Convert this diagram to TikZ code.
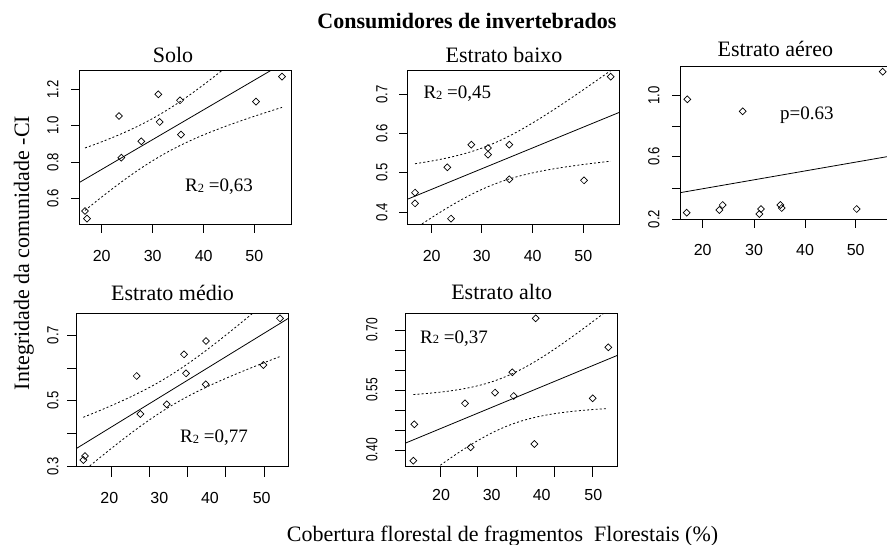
\documentclass[tikz,border=0pt]{standalone}
\usepackage{fontspec}
\usetikzlibrary{shapes.geometric}
\setmainfont{Liberation Serif}
\newfontfamily\ticksf{Liberation Sans}
\begin{document}
\begin{tikzpicture}[x=1pt,y=-1pt,
  box/.style={draw, line width=1pt},
  fitline/.style={line width=0.8pt},
  ci/.style={line width=0.8pt, dash pattern=on 2pt off 2.2pt},
  pt/.style={diamond, draw, line width=0.7pt, minimum width=7.2pt, minimum height=7.2pt, inner sep=0pt},
  tk/.style={line width=0.9pt},
  ttl/.style={font=\fontsize{22}{24}\selectfont, anchor=base, inner sep=0pt},
  mainttl/.style={font=\bfseries\fontsize{22}{24}\selectfont, anchor=base, inner sep=0pt},
  xl/.style={font=\ticksf\fontsize{16}{17}\selectfont, anchor=base, inner sep=0pt},
  yl/.style={font=\ticksf\fontsize{16}{17}\selectfont, rotate=90, anchor=base, inner sep=0pt},
  rl/.style={font=\fontsize{19}{20}\selectfont, anchor=base west, inner sep=0pt},
  axlab/.style={font=\fontsize{22}{24}\selectfont, anchor=base, inner sep=0pt}
]
\useasboundingbox (0,0) rectangle (887,545);
\newcommand{\Rtwo}[1]{R\raisebox{-0.5pt}{\fontsize{12.5}{13}\selectfont 2}\ =#1}

% ---------- titles and axis labels ----------
\node[mainttl] (main) at (467,29) {Consumidores de invertebrados};
\node[axlab] (xlab) at (502.5,541.5) {Cobertura florestal de fragmentos\ \ Florestais (\%)};
\node[axlab, rotate=90] (ylab) at (29,253) {Integridade da comunidade -CI};

% ================= Panel 1: Solo =================
\node[ttl] (t1) at (173,62.3) {Solo};
\begin{scope}
  \clip (79,71) rectangle (291,225);
  \draw[fitline] (79,182.7) -- (291,{182.7-0.585*212});
  \draw[ci] plot[domain=85:282, samples=60] (\x,{182.7-0.585*(\x-79)-sqrt(441+0.0963*(\x-159.5)^2)});
  \draw[ci] plot[domain=85:282, samples=60] (\x,{182.7-0.585*(\x-79)+sqrt(441+0.0963*(\x-159.5)^2)});
\end{scope}
\draw[box] (79,71) rectangle (291,225);
\foreach \a in {101.7,152.7,203.7,254.3} \draw[tk] (\a,225) -- (\a,233);
\foreach \a/\t in {101.7/20,152.7/30,203.7/40,254.3/50} \node[xl] at (\a,261.7) {\t};
\foreach \b in {89.3,125.7,162,198.7} \draw[tk] (79,\b) -- (71,\b);
\foreach \b/\t in {89.3/1.2,125.7/1.0,162/0.8,198.7/0.6} \node[yl] at (58.3,\b) {\scalebox{0.82}[1]{\t}};
\foreach \x/\y [count=\i] in {282/76.7,158.3/94.3,180/100.3,119/116,159.7/122,141.3/141.3,181/134.7,256/101.7,121.3/157.7,85/211,87/218.7}
  \node[pt] (pa\i) at (\x,\y) {};
\node[rl] (r1) at (185,191.7) {\Rtwo{0,63}};

% ================= Panel 2: Estrato baixo =================
\node[ttl] (t2) at (504,62.3) {Estrato baixo};
\begin{scope}
  \clip (407.3,71) rectangle (619.3,225);
  \draw[fitline] (407.3,199.3) -- (619.3,{199.3-0.41*212});
  \draw[ci] plot[domain=415:610.7, samples=60] (\x,{199.3-0.41*(\x-407.3)-sqrt(420+0.112*(\x-490)^2)});
  \draw[ci] plot[domain=415:610.7, samples=60] (\x,{199.3-0.41*(\x-407.3)+sqrt(420+0.112*(\x-490)^2)});
\end{scope}
\draw[box] (407.3,71) rectangle (619.3,225);
\foreach \a in {431.7,481.7,532.7,583.3} \draw[tk] (\a,225) -- (\a,233);
\foreach \a/\t in {431.7/20,481.7/30,532.7/40,583.3/50} \node[xl] at (\a,261.7) {\t};
\foreach \b in {94.3,133.3,172.7,212} \draw[tk] (407.3,\b) -- (399.3,\b);
\foreach \b/\t in {94.3/0.7,133.3/0.6,172.7/0.5,212/0.4} \node[yl] at (387.3,\b) {\scalebox{0.82}[1]{\t}};
\foreach \x/\y [count=\i] in {415/192.7,415/203.3,447.3/167.3,451/218.7,471.3/144.7,488/148,488/154.7,509.3/144.7,509.3/179.3,584/180.3,610.7/76.7}
  \node[pt] (pb\i) at (\x,\y) {};
\node[rl] (r2) at (423.3,99) {\Rtwo{0,45}};

% ================= Panel 3: Estrato aereo =================
\node[ttl] (t3) at (775.3,56.7) {Estrato aéreo};
\begin{scope}
  \clip (680,66.7) rectangle (889,220);
  \draw[fitline] (680,192.7) -- (889,{192.7-0.174*209});
\end{scope}
\draw[box] (680,66.7) rectangle (889,220);
\foreach \a in {702.7,754,805,855.7} \draw[tk] (\a,220) -- (\a,228);
\foreach \a/\t in {702.7/20,754/30,805/40,855.7/50} \node[xl] at (\a,256) {\t};
\foreach \b in {95.7,126,156.7,188.3,219} \draw[tk] (680,\b) -- (672,\b);
\foreach \b/\t in {95.7/1.0,156.7/0.6,219/0.2} \node[yl] at (659.3,\b) {\scalebox{0.82}[1]{\t}};
\foreach \x/\y [count=\i] in {687.3/99.3,686.7/212.7,742.7/111.3,719.3/210,722.7/205,759.3/214,761/209,780.3/205,781.7/208,856.7/209,882.7/71.7}
  \node[pt] (pc\i) at (\x,\y) {};
\node[rl] (r3) at (780,119.3) {p=0.63};

% ================= Panel 4: Estrato medio =================
\node[ttl] (t4) at (172.5,300.7) {Estrato médio};
\begin{scope}
  \clip (76.7,313.3) rectangle (288.3,466.7);
  \draw[fitline] (76.7,448.3) -- (288.3,{448.3-0.614*211.6});
  \draw[ci] plot[domain=83.3:280, samples=60] (\x,{448.3-0.614*(\x-76.7)-sqrt(240+0.068*(\x-168)^2)});
  \draw[ci] plot[domain=83.3:280, samples=60] (\x,{448.3-0.614*(\x-76.7)+sqrt(240+0.068*(\x-168)^2)});
\end{scope}
\draw[box] (76.7,313.3) rectangle (288.3,466.7);
\foreach \a in {111.7,149.3,187.7,225.7,264} \draw[tk] (\a,466.7) -- (\a,476.7);
\foreach \a/\t in {109.3/20,159.3/30,210/40,261.7/50} \node[xl] at (\a,503) {\t};
\foreach \b in {335,368.7,400.7,433.7,466.7} \draw[tk] (76.7,\b) -- (66.7,\b);
\foreach \b/\t in {335/0.7,400.7/0.5,466.7/0.3} \node[yl] at (58.3,\b) {\scalebox{0.82}[1]{\t}};
\foreach \x/\y [count=\i] in {280/318.3,206/341,184/354.3,186/373.3,136.7/376,205.7/384.3,263.3/365,166.7/404.3,140.3/414,85/456,83.3/460}
  \node[pt] (pd\i) at (\x,\y) {};
\node[rl] (r4) at (180,442.7) {\Rtwo{0,77}};

% ================= Panel 5: Estrato alto =================
\node[ttl] (t5) at (501.7,300) {Estrato alto};
\begin{scope}
  \clip (405,313.3) rectangle (617,466.7);
  \draw[fitline] (405,443.3) -- (617,{443.3-0.414*212});
  \draw[ci] plot[domain=413.3:606, samples=60] (\x,{443.3-0.414*(\x-405)-sqrt(625+0.17*(\x-505)^2)});
  \draw[ci] plot[domain=413.3:606, samples=60] (\x,{443.3-0.414*(\x-405)+sqrt(625+0.17*(\x-505)^2)});
\end{scope}
\draw[box] (405,313.3) rectangle (617,466.7);
\foreach \a in {440,477.7,516,554,592} \draw[tk] (\a,466.7) -- (\a,476.7);
\foreach \a/\t in {441/20,491.7/30,541.7/40,593.3/50} \node[xl] at (\a,500.5) {\t};
\foreach \b in {330,350,370,390,410,430,450} \draw[tk] (405,\b) -- (395,\b);
\foreach \b/\t in {330/0.70,390/0.55,450/0.40} \node[yl] at (377.3,\b) {\scalebox{0.75}[1]{\t}};
\foreach \x/\y [count=\i] in {535.7/318.3,608.3/347.3,512.3/372.3,495/392.7,513.7/396,465/403.3,592.7/398.3,414.3/424.3,470.7/447.3,534.3/444,413.3/460.7}
  \node[pt] (pe\i) at (\x,\y) {};
\node[rl] (r5) at (420,343.3) {\Rtwo{0,37}};
\end{tikzpicture}
\end{document}
